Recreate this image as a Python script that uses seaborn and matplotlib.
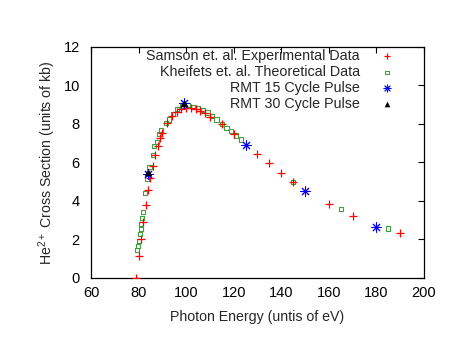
import numpy as np
import pandas as pd
import seaborn as sns
import matplotlib
matplotlib.use("Agg")
import matplotlib.pyplot as plt

# Samson et al. experimental data
exp_E = [79, 80, 81, 82, 83, 84, 85, 86, 87, 88, 89, 90, 92, 94, 96, 98, 100, 102, 104,
         106, 108, 110, 115, 120, 125, 130, 135, 140, 145, 150, 160, 170, 180, 190]
exp_s = [0.02, 1.12, 2.0, 2.92, 3.8, 4.55, 5.2, 5.82, 6.37, 6.84, 7.24, 7.53, 8.02, 8.39,
         8.6, 8.77, 8.79, 8.79, 8.76, 8.67, 8.58, 8.37, 7.97, 7.44, 6.9, 6.41, 5.94, 5.46,
         4.99, 4.52, 3.83, 3.21, 2.63, 2.33]

# Kheifets et al. theoretical data
th_E = [79.5, 79.9, 80.2, 80.6, 80.9, 81.1, 81.4, 81.8, 82.8, 83.7, 84.6, 85.9, 86.6, 87.6,
        88.7, 89.4, 91.5, 92.9, 94.6, 96.3, 98.1, 100.9, 103, 105, 107, 109, 110.8, 112.8,
        115, 117, 119, 121, 123, 145, 165, 185]
th_s = [1.45, 1.67, 1.92, 2.28, 2.52, 2.78, 3.09, 3.44, 4.39, 5.16, 5.75, 6.37, 6.84, 7.06,
        7.46, 7.67, 8.02, 8.22, 8.5, 8.74, 8.91, 8.96, 8.88, 8.79, 8.70, 8.58, 8.41, 8.22,
        8.0, 7.79, 7.6, 7.39, 7.18, 4.99, 3.57, 2.57]

# RMT results
rmt15_E = [84, 99, 125, 150, 180]
rmt15_s = [5.4, 9.05, 6.88, 4.5, 2.65]
rmt30_E = [84, 99]
rmt30_s = [5.5, 9.08]

xticks = [60, 80, 100, 120, 140, 160, 180, 200]
yticks = [0, 2, 4, 6, 8, 10, 12]

sns.set_theme(style="white")
plt.rcParams['font.family'] = ['Liberation Sans', 'DejaVu Sans']
plt.rcParams['mathtext.default'] = 'regular'

fig = plt.figure(figsize=(4.63, 3.58), dpi=100)
ax = fig.add_axes([0.1965, 0.2235, 0.7193, 0.6465])

sns.scatterplot(x=exp_E, y=exp_s, marker='+', color='#ff0000', s=40, linewidth=0.9,
                ax=ax, label='Samson et. al. Experimental Data', zorder=3)
sns.scatterplot(x=th_E, y=th_s, marker='s', s=9, facecolor='none', edgecolor='#3fa03f',
                linewidth=0.8, ax=ax, label='Kheifets et. al. Theoretical Data', zorder=2)
sns.scatterplot(x=rmt15_E, y=rmt15_s, marker=(8, 2, 0), color='#0000ff', s=45,
                linewidth=0.7, ax=ax, label='RMT 15 Cycle Pulse', zorder=4)
sns.scatterplot(x=rmt30_E, y=rmt30_s, marker='^', color='black', s=30, linewidth=0,
                ax=ax, label='RMT 30 Cycle Pulse', zorder=5)

ax.set_xlim(60, 200)
ax.set_ylim(0, 12)
ax.set_xticks(xticks)
ax.set_yticks(yticks)
ax.tick_params(direction='in', length=4, width=0.8, top=True, right=True,
               labelsize=10.5, colors='black')
ax.tick_params(axis='y', pad=8)
ax.tick_params(axis='x', pad=6)
for sp in ax.spines.values():
    sp.set_color('black')
    sp.set_linewidth(0.9)

ax.set_xlabel('Photon Energy (untis of eV)', fontsize=10.2, labelpad=7)
ax.set_ylabel('He$^{2+}$ Cross Section (units of kb)', fontsize=10.2, labelpad=4)

leg = ax.legend(loc='upper right', markerfirst=False, frameon=False, fontsize=10.3,
                handletextpad=0.9, labelspacing=0.13, borderaxespad=0.0,
                markerscale=0.75, bbox_to_anchor=(0.949, 1.014))

fig.savefig('out.png', dpi=100)
